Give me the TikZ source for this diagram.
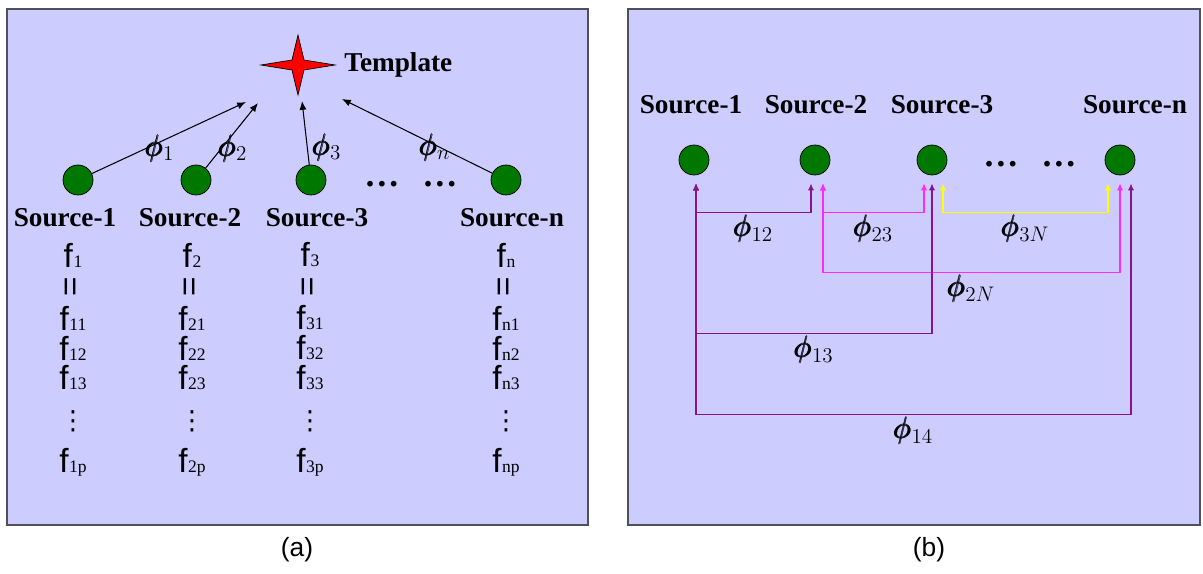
\documentclass[tikz,border=0pt]{standalone}
\usepackage{fontspec}
\setmainfont{Liberation Serif}
\setsansfont{Liberation Sans}
\newfontfamily\symfont{DejaVu Sans}
\usepackage{amsmath,bm}
\usetikzlibrary{arrows.meta,calc}

\definecolor{panelbg}{RGB}{204,204,255}
\definecolor{panelrim}{RGB}{80,80,90}
\definecolor{srcgreen}{RGB}{0,120,0}
\definecolor{linkpurple}{RGB}{135,20,140}
\definecolor{linkmagenta}{RGB}{255,40,255}
\definecolor{linkyellow}{RGB}{255,255,0}

% feature name: sans f with a small serif index
\newcommand*{\fs}[1]{{\sffamily f}\kern0.3pt{\fontsize{10}{10}\selectfont #1}}
% transform name
\newcommand*{\ph}[1]{$\pmb{\phi}_{#1}$}

\begin{document}
\begin{tikzpicture}[x=0.02cm, y=-0.02cm,
    panel/.style ={draw=panelrim, line width=1.2pt, fill=panelbg},
    source/.style ={circle, draw=black, thin, fill=srcgreen,
      minimum size=0.6cm, inner sep=0pt},
    srclabel/.style ={font=\bfseries\fontsize{15.5}{18}\selectfont, inner sep=0pt},
    ftext/.style ={font=\fontsize{19}{20}\selectfont, inner sep=0pt},
    vdotstext/.style ={font=\symfont\fontsize{15}{15}\selectfont, inner sep=0pt},
    philabel/.style ={font=\fontsize{17}{19}\selectfont, inner sep=1pt},
    dots/.style ={font=\bfseries\fontsize{20}{20}\selectfont, inner sep=0pt},
    caption/.style ={font=\sffamily\fontsize{15}{18}\selectfont},
    toarrow/.style ={draw, line width=0.6pt, -{Latex[length=5pt,width=4pt]}},
    link/.style ={draw, line width=0.9pt,
      {Latex[length=4pt,width=3.6pt]}-{Latex[length=4pt,width=3.6pt]}}]
  \useasboundingbox (0,0) rectangle (1203,574);

  % the two panels
  \draw[panel] (7,9) rectangle (588,525);
  \draw[panel] (628,9) rectangle (1200,525);

  %%%%% left panel: sources mapped onto the template
  \coordinate (tmpl) at (298,65);
  \draw[shift={(tmpl)}, fill=red, draw=black, thin]
    (37,0) -- (6,-5) -- (0,-30) -- (-6,-5) -- (-37,0) -- (-6,5) -- (0,30) -- (6,5) -- cycle;
  \node[srclabel, anchor=west] (tmpltxt) at (344,65) {Template};

  \foreach \n/\x in {1/78,2/196,3/311,n/506}
    \node[source] (a\n) at (\x,180) {};
  \node[dots, anchor=base] (adots) at (411,187) {\ldots\hspace{13pt}\ldots};

  \node[srclabel] (la1) at (65,218) {Source-1};
  \node[srclabel] (la2) at (190,218) {Source-2};
  \node[srclabel] (la3) at (317,218) {Source-3};
  \node[srclabel] (lan) at (512,218) {Source-n};

  % arrows towards the template
  \coordinate (t1) at (246,102);
  \coordinate (t2) at (258,103);
  \coordinate (t3) at (302,101);
  \coordinate (tn) at (342,99);
  \draw[toarrow] (a1) -- (t1);
  \draw[toarrow] (a2) -- (t2);
  \draw[toarrow] (a3) -- (t3);
  \draw[toarrow] (an) -- (tn);
  \node[philabel] (phi1) at (160,148) {\ph{1}};
  \node[philabel] (phi2) at (233,148) {\ph{2}};
  \node[philabel] (phi3) at (327,147) {\ph{3}};
  \node[philabel] (phin) at (435,147) {\ph{n}};

  % feature columns
  \foreach \c/\x in {1/73,2/192,3/310,n/506} {
    \node[ftext] (f\c) at (\x,255) {\fs{\c}};
    \node[ftext] (eq\c) at (\x,287) {\sffamily\rotatebox{90}{=}};
    \node[ftext] (f\c-1) at (\x,318) {\fs{\c1}};
    \node[ftext] (f\c-2) at (\x,348) {\fs{\c2}};
    \node[ftext] (f\c-3) at (\x,378) {\fs{\c3}};
    \node[vdotstext] (vd\c) at (\x,421) {⋮};
    \node[ftext] (f\c-p) at (\x,462) {\fs{\c p}};
  }

  %%%%% right panel: pairwise transforms
  \foreach \n/\x in {1/694,2/815,3/932,n/1120}
    \node[source] (b\n) at (\x,160) {};
  \node[dots, anchor=base] (bdots) at (1030,167) {\ldots\hspace{13pt}\ldots};

  \node[srclabel] (lb1) at (691,105) {Source-1};
  \node[srclabel] (lb2) at (816,105) {Source-2};
  \node[srclabel] (lb3) at (942,105) {Source-3};
  \node[srclabel] (lbn) at (1135,105) {Source-n};

  % arrow ports under each source
  \coordinate (p1) at ($(b1.south)+(2,8)$);
  \coordinate (p2a) at ($(b2.south)+(-4,8)$);
  \coordinate (p2b) at ($(b2.south)+(8,8)$);
  \coordinate (p3a) at ($(b3.south)+(-8,8)$);
  \coordinate (p3b) at ($(b3.south)+(0,8)$);
  \coordinate (p3c) at ($(b3.south)+(11,8)$);
  \coordinate (pna) at ($(bn.south)+(-12,8)$);
  \coordinate (pnb) at ($(bn.south)+(0,8)$);
  \coordinate (pnc) at ($(bn.south)+(11,8)$);

  \draw[link, linkmagenta] (p2b) -- ++(0,29) -| node[philabel, pos=0.25, below, text=black] {\ph{23}} (p3a);
  \draw[link, linkyellow] (p3c) -- ++(0,29) -| node[philabel, pos=0.25, below, text=black] {\ph{3N}} (pna);
  \draw[link, linkmagenta] (p2b) -- ++(0,89) -| node[philabel, pos=0.25, below, text=black] {\ph{2N}} (pnb);
  \draw[link, linkpurple] (p1) -- ++(0,29) -| node[philabel, pos=0.25, below, text=black] {\ph{12}} (p2a);
  \draw[link, linkpurple] (p1) -- ++(0,150) -| node[philabel, pos=0.25, below, text=black] {\ph{13}} (p3b);
  \draw[link, linkpurple] (p1) -- ++(0,231) -| node[philabel, pos=0.25, below, text=black] {\ph{14}} (pnc);

  % captions
  \node[caption] (capa) at (297,550) {(a)};
  \node[caption] (capb) at (929,550) {(b)};
\end{tikzpicture}
\end{document}
